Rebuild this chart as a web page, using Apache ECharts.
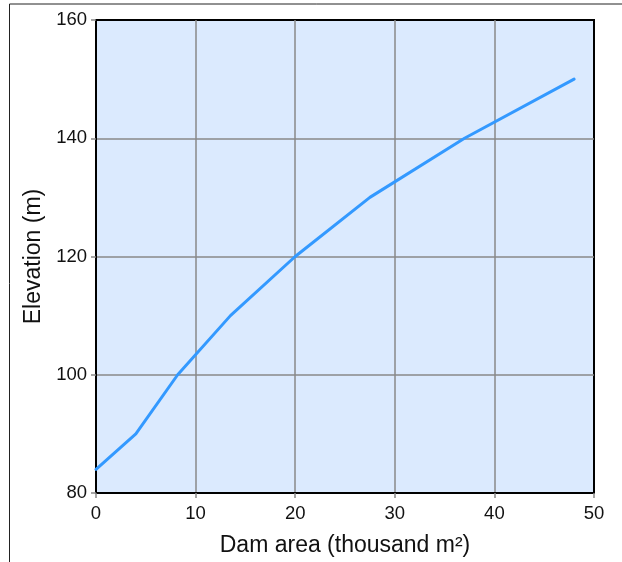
<!DOCTYPE html>
<html>
<head>
<meta charset="utf-8">
<style>
html,body{margin:0;padding:0;background:#fff;}
#chart{width:622px;height:562px;}
</style>
<script src="https://cdn.jsdelivr.net/npm/echarts@6/dist/echarts.min.js"></script>
</head>
<body>
<div id="chart"></div>
<script>
const areaValues = [0, 4, 8.2, 13.5, 20, 27.5, 37, 48];
const elevationValues = [84, 90, 100, 110, 120, 130, 140, 150];
const xTitle = 'Dam area (thousand m²)';
const yTitle = 'Elevation (m)';

const seriesData = areaValues.map((a, i) => [a, elevationValues[i]]);
const chart = echarts.init(document.getElementById('chart'));
const font = '"Liberation Sans", Arial, sans-serif';
chart.setOption({
  animation: false,
  backgroundColor: '#fff',
  graphic: [{
    type: 'rect',
    shape: { x: 9.5, y: 4, width: 800, height: 800 },
    style: { fill: 'none', stroke: '#222', lineWidth: 1 },
    z: 100, silent: true
  }],
  grid: {
    left: 96, top: 20, width: 498, height: 473,
    show: true, backgroundColor: '#dbeafe', borderColor: '#000', borderWidth: 2,
    containLabel: false
  },
  xAxis: {
    type: 'value', min: 0, max: 50, interval: 10,
    name: xTitle, nameLocation: 'middle', nameGap: 41,
    nameTextStyle: { fontSize: 23, color: '#111', fontFamily: font },
    axisLine: { show: true, lineStyle: { color: '#000', width: 2 } },
    axisTick: { show: true, length: 5, lineStyle: { color: '#888', width: 1.5 } },
    axisLabel: { fontSize: 18.5, color: '#111', fontFamily: font, margin: 11 },
    splitLine: { show: true, showMinLine: false, showMaxLine: false, lineStyle: { color: '#888', width: 1.5 } }
  },
  yAxis: {
    type: 'value', min: 80, max: 160, interval: 20,
    name: yTitle, nameLocation: 'middle', nameGap: 51,
    nameTextStyle: { fontSize: 23, color: '#111', fontFamily: font },
    axisLine: { show: true, lineStyle: { color: '#000', width: 2 } },
    axisTick: { show: true, length: 5, lineStyle: { color: '#888', width: 1.5 } },
    axisLabel: { fontSize: 18.5, color: '#111', fontFamily: font, margin: 9 },
    splitLine: { show: true, showMinLine: false, showMaxLine: false, lineStyle: { color: '#888', width: 1.5 } }
  },
  series: [{
    type: 'line',
    data: seriesData,
    showSymbol: false,
    symbol: 'none',
    lineStyle: { color: '#3399ff', width: 3, cap: 'round', join: 'round' },
    clip: false
  }]
});
</script>
</body>
</html>
